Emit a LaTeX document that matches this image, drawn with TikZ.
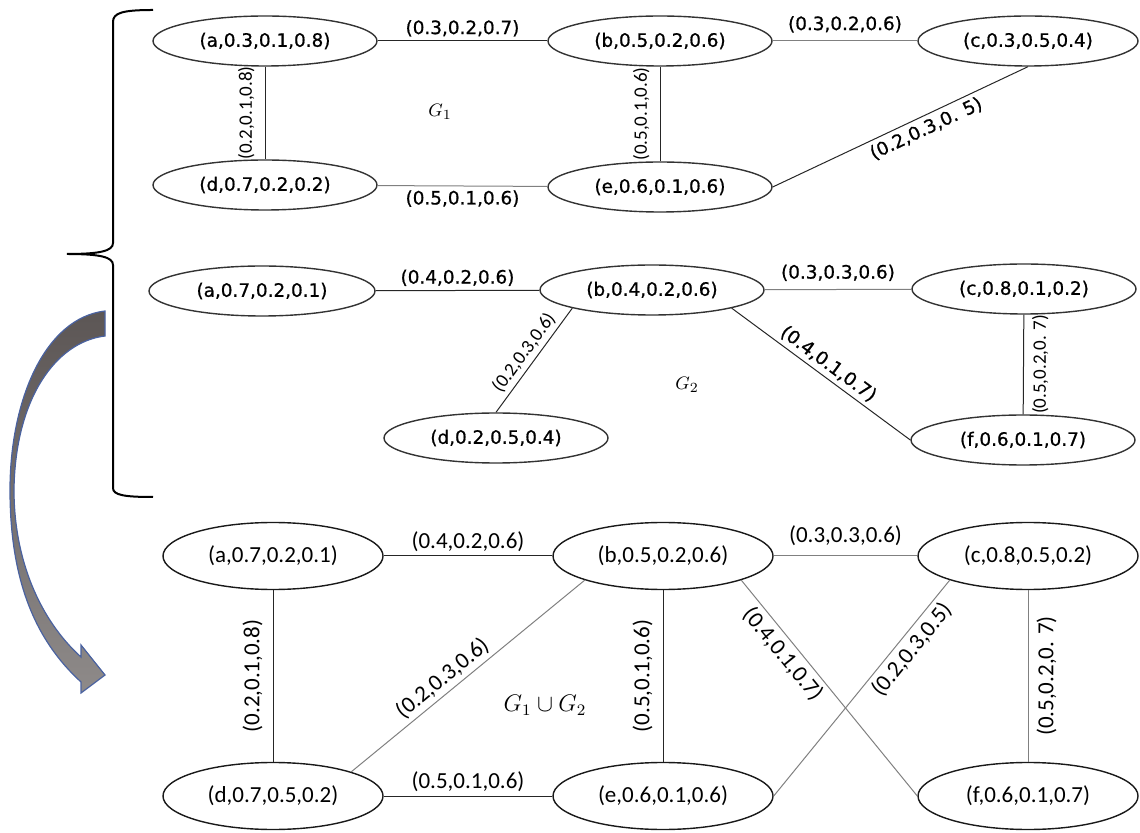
\documentclass[tikz,border=0pt]{standalone}
\usepackage{fontspec}
\setmainfont{Carlito}
\newfontfamily\dvsans[FakeBold=0.8]{DejaVu Sans}
\usetikzlibrary{shapes.geometric}
\definecolor{arrow edge}{HTML}{4A62A0}
\definecolor{arrow top}{HTML}{5C5655}
\definecolor{arrow bottom}{HTML}{8E8A89}
\tikzset{
  smallvert/.style={draw=black!80, ellipse, line width=0.7pt, minimum width=112pt,
    minimum height=25pt, inner sep=0pt, font=\dvsans\fontsize{9.2}{11}\selectfont},
  bigvert/.style={draw=black!90, ellipse, line width=0.7pt, minimum width=110pt,
    minimum height=33.5pt, inner sep=0pt, font=\fontsize{11.5}{13}\selectfont},
  link/.style={draw=black!85, line width=0.5pt},
  greylink/.style={draw=black!50, line width=0.5pt},
  wt/.style={font=\dvsans\fontsize{9.2}{11}\selectfont, inner sep=2pt},
  wtc/.style={font=\fontsize{9.5}{11}\selectfont, inner sep=2pt},
  bigwt/.style={font=\fontsize{11.5}{13}\selectfont, inner sep=2pt},
  vlab/.style={rotate=90, inner sep=5pt}
}
\begin{document}
\begin{tikzpicture}[x=0.5pt, y=-0.5pt]
  \useasboundingbox (0,0) rectangle (1140,833);
  % brace round the two graphs
  \draw[line width=1pt] (153,10) .. controls (122,10) and (113,13) .. (113,22) -- (113,243)
    .. controls (113,251) and (100,254) .. (67,254) .. controls (100,254) and (113,257) .. (113,265)
    -- (113,488) .. controls (113,495) and (124,497) .. (153,497);
  % curved arrow down to the union
  \shadedraw[top color=arrow top, bottom color=arrow bottom, draw=arrow edge, line width=0.6pt]
    (105,311) -- (105,336) .. controls (55,342) and (15,400) .. (14,490)
    .. controls (14,560) and (40,620) .. (81,657) -- (81,645) -- (105,675) -- (81,693) -- (81,682)
    .. controls (35,640) and (10,580) .. (10,490) .. controls (10,400) and (45,318) .. (105,311) -- cycle;
  \begin{scope}
    % G1
    \node[smallvert] (a1) at (265,41) {(a,0.3,0.1,0.8)};
    \node[smallvert] (b1) at (660,41) {(b,0.5,0.2,0.6)};
    \node[smallvert, minimum width=110pt] (c1) at (1028,41) {(c,0.3,0.5,0.4)};
    \node[smallvert] (d1) at (265,185) {(d,0.7,0.2,0.2)};
    \node[smallvert] (e1) at (660,187) {(e,0.6,0.1,0.6)};
    \node[font=\fontsize{9.5}{11}\selectfont] (g1) at (440,112) {$G_1$};
    \draw[link] (a1) -- node[wt, above] {(0.3,0.2,0.7)} (b1);
    \draw[greylink] (b1) -- node[wt, above=2pt] {(0.3,0.2,0.6)} (c1);
    \draw[link] (a1) -- node[wtc, vlab, above] {(0.2,0.1,0.8)} (d1);
    \draw[link] (b1) -- node[wtc, vlab, above] {(0.5,0.1,0.6)} (e1);
    \draw[greylink] (d1) -- node[wt, below] {(0.5,0.1,0.6)} (e1);
    \draw[link] (e1.east) -- node[wt, sloped, below, pos=0.58] {(0.2,0.3,0. 5)} (c1.south);
  \end{scope}
  \begin{scope}
    % G2
    \node[smallvert, minimum width=113pt] (a2) at (262,291) {(a,0.7,0.2,0.1)};
    \node[smallvert] (b2) at (652,290) {(b,0.4,0.2,0.6)};
    \node[smallvert] (c2) at (1024,289) {(c,0.8,0.1,0.2)};
    \node[smallvert] (d2) at (496,438) {(d,0.2,0.5,0.4)};
    \node[smallvert] (f2) at (1023,440) {(f,0.6,0.1,0.7)};
    \node[font=\fontsize{9.5}{11}\selectfont] (g2) at (687,385) {$G_2$};
    \draw[link] (a2) -- node[wt, above] {(0.4,0.2,0.6)} (b2);
    \draw[greylink] (b2) -- node[wt, above=2pt] {(0.3,0.3,0.6)} (c2);
    \draw[link] (d2.north) -- node[wtc, sloped, above] {(0.2,0.3,0.6)} (b2.south west);
    \draw[link] (b2.south east) -- node[wt, sloped, above] {(0.4,0.1,0.7)} (f2.west);
    \draw[link] (c2) -- node[wtc, vlab, below, inner sep=4pt] {(0.5,0.2,0. 7)} (f2);
  \end{scope}
  \begin{scope}
    % G1 union G2
    \node[bigvert] (a3) at (273,556) {(a,0.7,0.2,0.1)};
    \node[bigvert] (b3) at (663,556) {(b,0.5,0.2,0.6)};
    \node[bigvert] (c3) at (1028,556) {(c,0.8,0.5,0.2)};
    \node[bigvert] (d3) at (273,796) {(d,0.7,0.5,0.2)};
    \node[bigvert] (e3) at (663,796) {(e,0.6,0.1,0.6)};
    \node[bigvert] (f3) at (1028,796) {(f,0.6,0.1,0.7)};
    \node[font=\fontsize{12}{14}\selectfont] (g3) at (545,705) {$G_1\cup G_2$};
    \draw[link] (a3) -- node[bigwt, above] {(0.4,0.2,0.6)} (b3);
    \draw[greylink] (b3) -- node[bigwt, above=3pt] {(0.3,0.3,0.6)} (c3);
    \draw[link] (a3) -- node[bigwt, vlab, above] {(0.2,0.1,0.8)} (d3);
    \draw[link] (b3) -- node[bigwt, vlab, above] {(0.5,0.1,0.6)} (e3);
    \draw[greylink] (c3) -- node[bigwt, vlab, below, inner sep=4pt] {(0.5,0.2,0. 7)} (f3);
    \draw[link] (d3) -- node[bigwt, above] {(0.5,0.1,0.6)} (e3);
    \draw[greylink] (d3.north east) -- node[bigwt, sloped, above, pos=0.43] {(0.2,0.3,0.6)} (b3.south west);
    \draw[greylink] (b3.south east) -- node[bigwt, sloped, below, pos=0.3] {(0.4,0.1,0.7)} (f3.west);
    \draw[greylink] (e3.east) -- node[bigwt, sloped, below, pos=0.72] {(0.2,0.3,0.5)} (c3.south west);
  \end{scope}
\end{tikzpicture}
\end{document}
